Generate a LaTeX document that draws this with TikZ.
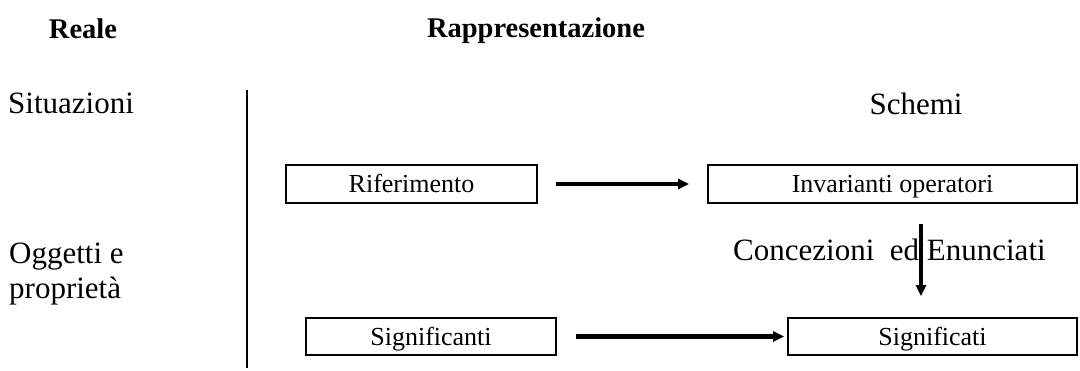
\documentclass[tikz,border=0pt]{standalone}
\usepackage{fontspec}
\setmainfont{Liberation Serif}
\usetikzlibrary{arrows.meta}

\tikzset{
  lbl/.style={inner sep=0pt, font=\fontsize{31}{37}\selectfont},
  head/.style={inner sep=0pt, font=\fontsize{28.5}{34}\selectfont\bfseries},
  box/.style={draw, line width=1.8pt, inner sep=0pt, anchor=base,
    font=\fontsize{26}{31}\selectfont},
  flow/.style={line width=4.5pt, -{Triangle[length=11pt,width=10pt]}}
}

\begin{document}
\begin{tikzpicture}[x=1pt, y=-1pt]
          \useasboundingbox (0,0) rectangle (1080,370);
          % headings
          \node [head, anchor=base] (reale) at (83, 38) {Reale};
          \node [head, anchor=base] (rappr) at (536, 37) {Rappresentazione};
          % left column
          \node [lbl, anchor=base west] (sit) at (8, 113) {Situazioni};
          \node [lbl, anchor=base west] (ogg) at (9, 263) {Oggetti e};
          \node [lbl, anchor=base west] (prop) at (9, 298) {proprietà};
          \draw [line width=1.8pt] (247, 90) -- (247, 368);
          % right column
          \node [lbl, anchor=base] (schemi) at (916, 114) {Schemi};
          \node [lbl, anchor=base west] (conc) at (733, 260) {Concezioni\ \ ed Enunciati};
          \node [box, minimum width=251pt, text height=27pt, text depth=11pt] (rif) at (411.5, 192) {Riferimento};
          \node [box, minimum width=369pt, text height=27pt, text depth=11pt] (inv) at (892.5, 192) {Invarianti operatori};
          \node [box, minimum width=250pt, text height=27pt, text depth=10pt] (sgn) at (431, 345) {Significanti};
          \node [box, minimum width=289pt, text height=27pt, text depth=10pt] (sgt) at (932.5, 345) {Significati};
          \coordinate (vx) at (921, 0);
          \draw [flow, shorten <=18pt, shorten >=18pt] (rif.east) -- (inv.west);
          \draw [flow, shorten <=19pt, shorten >=3pt] (sgn.east) -- (sgt.west);
          \draw [flow, shorten <=20pt, shorten >=21pt] (inv.south -| vx) -- (sgt.north -| vx);
        \end{tikzpicture}
\end{document}
